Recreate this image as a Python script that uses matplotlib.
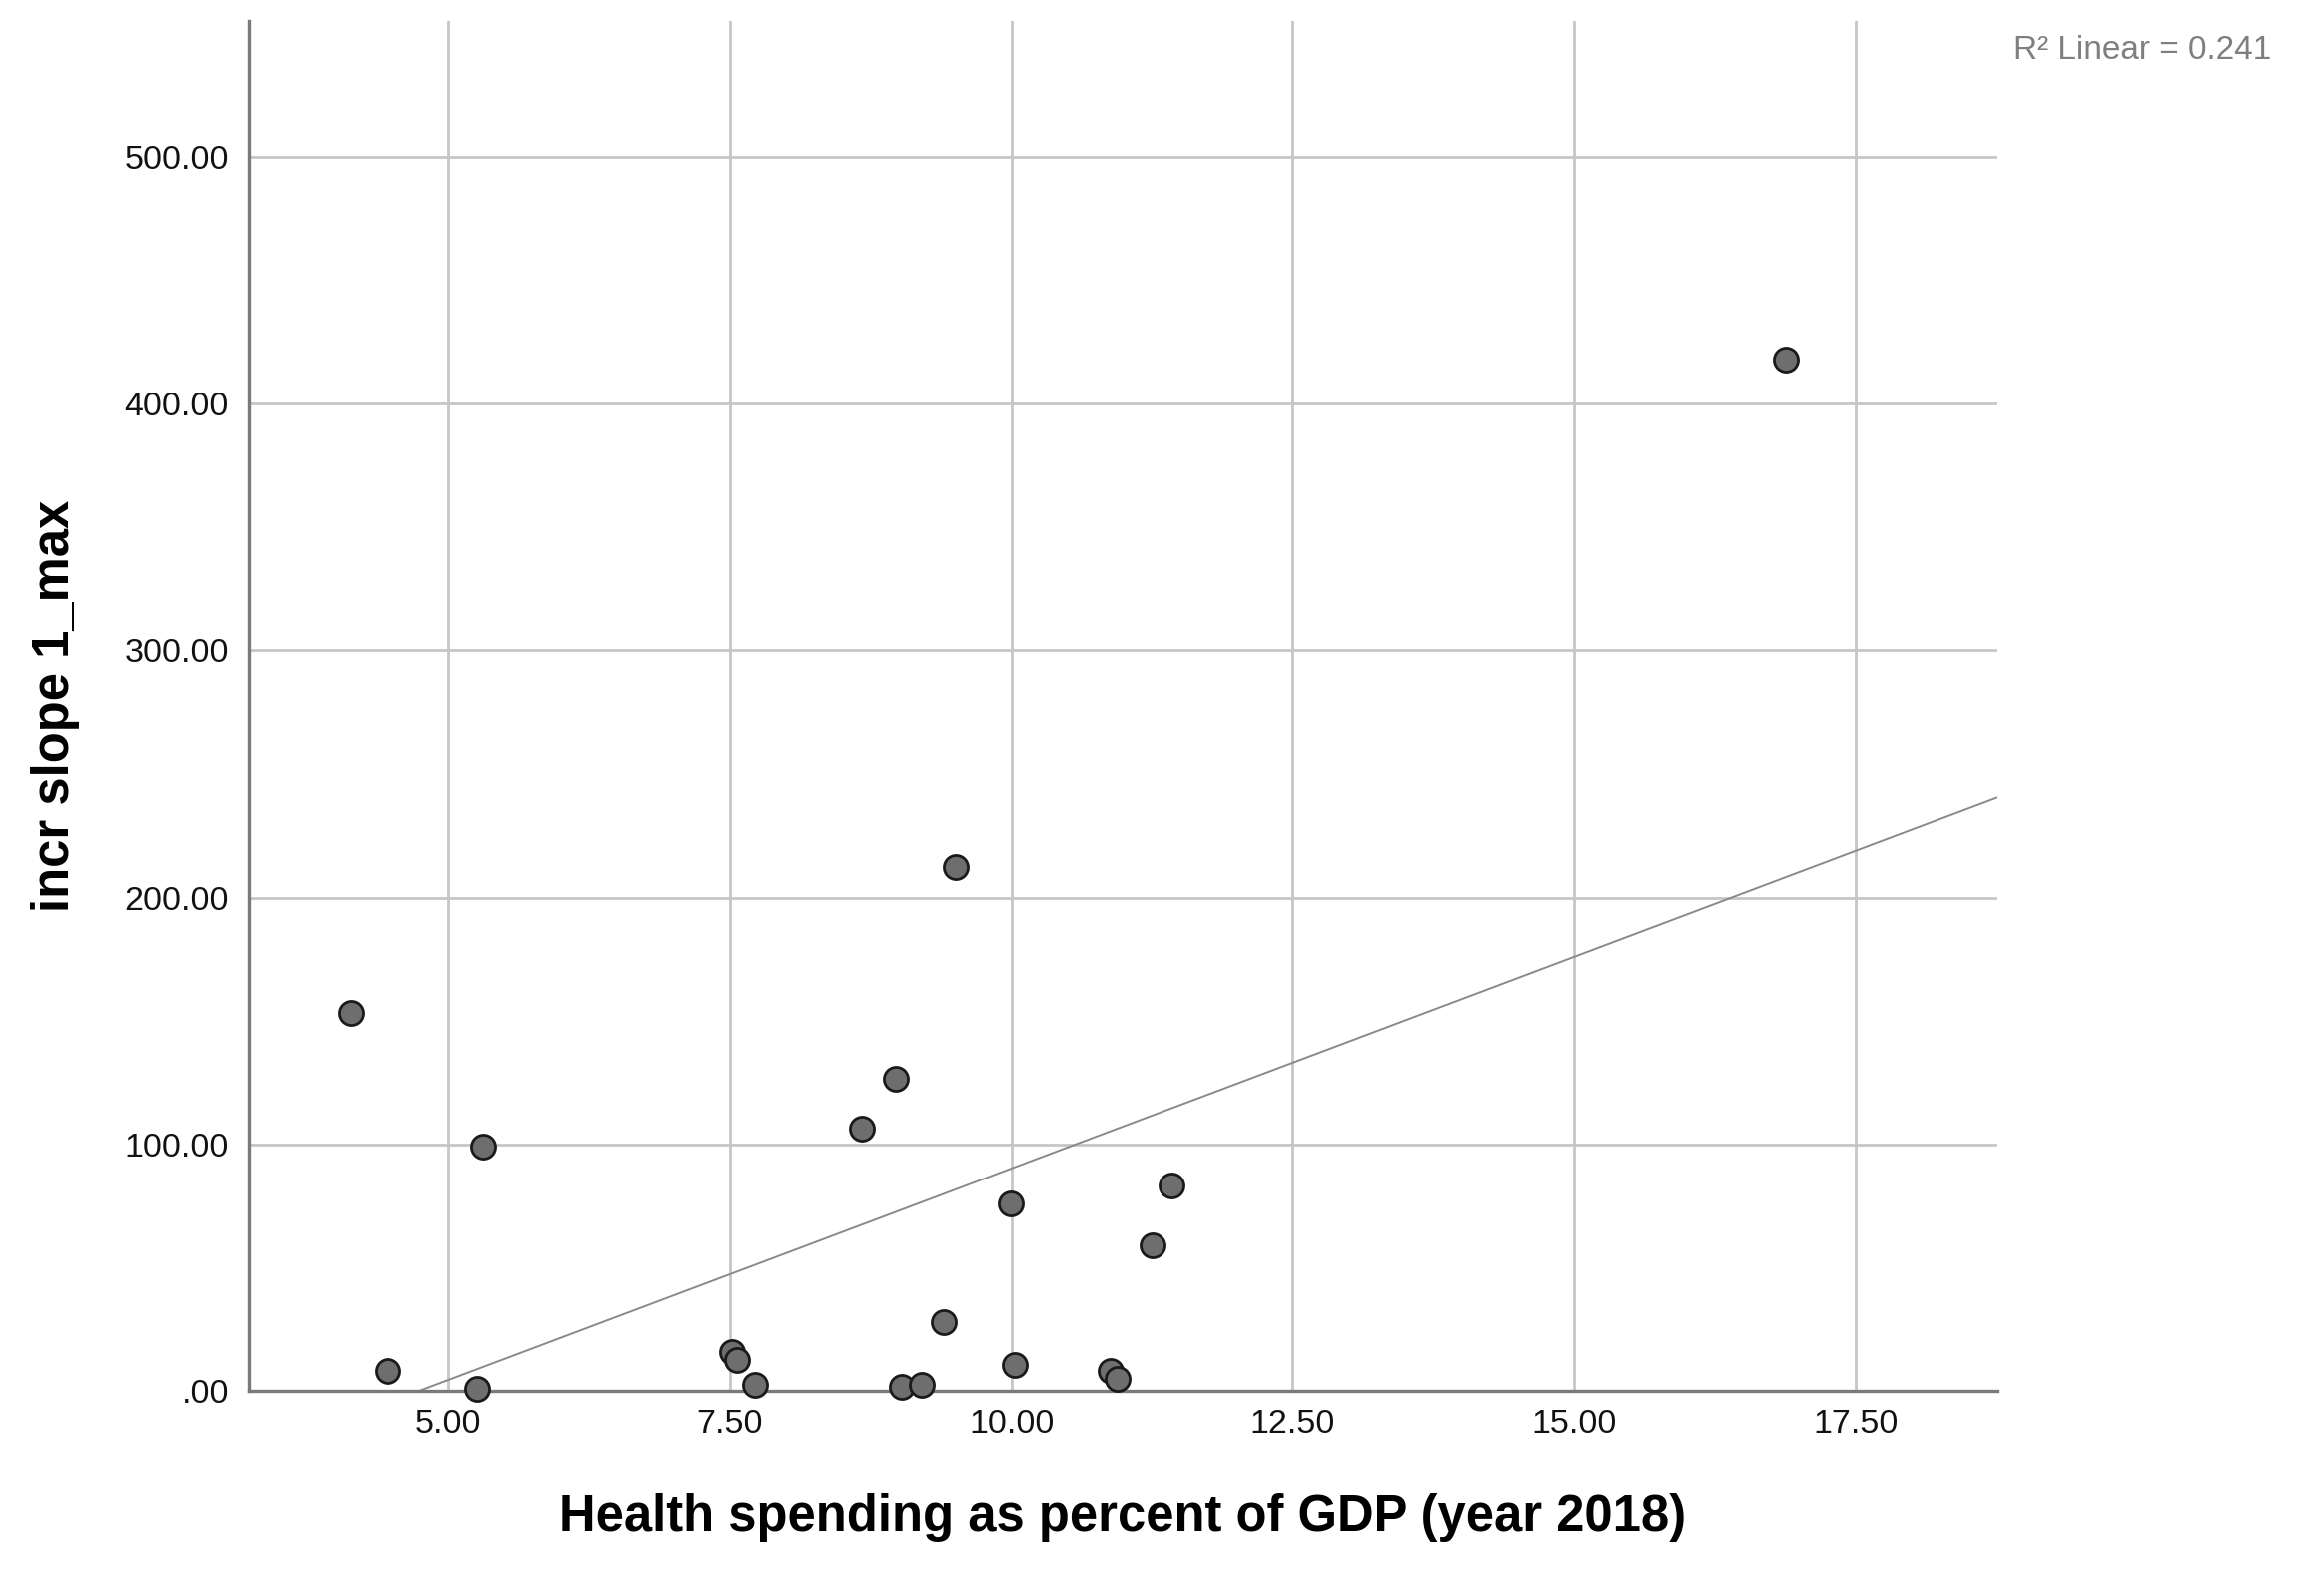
"""Scatter of health spending vs incr slope with linear fit (SPSS style)."""

import matplotlib

matplotlib.use("Agg")
import matplotlib.pyplot as plt
import numpy as np

# data
health_spending = [
    4.13, 4.46, 5.26, 5.31, 7.52, 7.56, 7.72, 8.67, 8.97, 9.03,
    9.20, 9.40, 9.51, 9.99, 10.03, 10.88, 10.94, 11.25, 11.42, 16.88,
]
incr_slope = [
    153.4, 8.1, 0.9, 98.9, 15.9, 12.5, 2.6, 106.5, 126.5, 1.6,
    2.3, 28.1, 212.5, 76.0, 10.4, 8.1, 5.0, 58.9, 83.2, 417.9,
]
x_ticks = [5.0, 7.5, 10.0, 12.5, 15.0, 17.5]
y_ticks = [0, 100, 200, 300, 400, 500]
r2_label = "R² Linear = 0.241"

plt.rcParams["font.family"] = ["Liberation Sans", "DejaVu Sans"]

fig = plt.figure(figsize=(23.27, 15.74), dpi=100)
ax = fig.add_axes([0.1068, 0.115, 0.7527, 0.8717])

x = np.array(health_spending)
y = np.array(incr_slope)
slope, intercept = np.polyfit(x, y, 1)

ax.set_xlim(3.22, 18.76)
ax.set_ylim(0, 555)

ax.grid(True, color="#c6c6c6", linewidth=2.0, zorder=0)
ax.set_axisbelow(True)

fit_x = np.array(ax.get_xlim())
ax.plot(fit_x, slope * fit_x + intercept, color="#8a8a8a", linewidth=1.4, zorder=2)

ax.scatter(x, y, s=300, facecolor="#6e6e6e", edgecolor="#1a1a1a",
           linewidth=2.0, zorder=3, clip_on=False)

ax.set_xticks(x_ticks)
ax.set_xticklabels([f"{v:.2f}" for v in x_ticks])
ax.set_yticks(y_ticks)
ax.set_yticklabels([f"{v:.2f}".lstrip("0") for v in y_ticks])
ax.tick_params(axis="both", length=0, labelsize=24.5, colors="#111111")
ax.tick_params(axis="x", pad=13)
ax.tick_params(axis="y", pad=14)

for side in ("top", "right"):
    ax.spines[side].set_visible(False)
for side in ("left", "bottom"):
    ax.spines[side].set_color("#7a7a7a")
    ax.spines[side].set_linewidth(2.4)

ax.set_xlabel("Health spending as percent of GDP (year 2018)", fontsize=36.5,
              fontweight="bold", va="center")
ax.xaxis.set_label_coords(0.5, -0.092)
ax.set_ylabel("incr slope 1_max", fontsize=36.5, fontweight="bold", va="center")
ax.yaxis.set_label_coords(-0.110, 0.5)

fig.text(0.9775, 0.968, r2_label, fontsize=24, color="#7f7f7f",
         ha="right", va="center")

fig.savefig("out.png", dpi=100)
